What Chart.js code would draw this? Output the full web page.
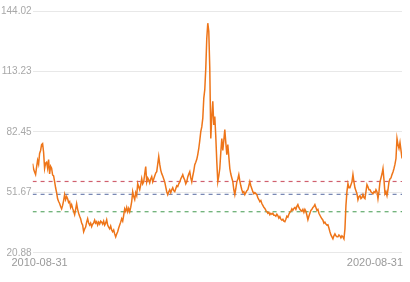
<!DOCTYPE html>
<html>
<head>
<meta charset="utf-8">
<script src="https://cdn.jsdelivr.net/npm/chart.js@4/dist/chart.umd.min.js"></script>
<style>
  html, body { margin: 0; padding: 0; background: #fff; }
  #wrap { width: 410px; height: 282px; }
</style>
</head>
<body>
<div id="wrap"><canvas id="priceChart"></canvas></div>
<script>
// Daily-ish series 2010-08-31 .. 2020-08-31
const values = [
  66.3, 63.5, 62.0, 60.7, 64.5, 68.0, 66.0, 71.5, 73.0, 76.0,
  76.5, 72.0, 63.8, 66.5, 67.0, 64.0, 68.4, 61.0, 65.0, 64.0,
  60.5, 60.0, 57.1, 54.0, 51.5, 48.4, 47.0, 46.0, 44.5, 43.3,
  45.0, 47.5, 50.5, 48.0, 49.5, 48.4, 46.5, 47.0, 44.0, 45.4,
  43.5, 42.0, 40.3, 43.0, 45.9, 43.0, 41.0, 39.5, 38.2, 36.0,
  35.0, 31.6, 33.0, 34.0, 36.5, 38.2, 36.0, 35.0, 36.0, 34.2,
  35.5, 36.0, 37.5, 36.0, 36.7, 35.0, 36.5, 35.5, 37.0, 36.5,
  35.5, 37.0, 35.0, 36.0, 37.7, 35.0, 34.0, 33.1, 34.5, 32.5,
  31.6, 32.5, 30.5, 29.0, 30.5, 31.6, 33.5, 35.0, 36.5, 38.2,
  37.0, 40.0, 43.3, 42.0, 44.0, 41.8, 43.5, 41.8, 44.0, 46.9,
  52.0, 49.5, 48.0, 51.5, 50.0, 56.1, 54.5, 53.0, 55.5, 58.7,
  56.0, 57.0, 61.0, 64.8, 57.0, 59.0, 58.0, 56.5, 58.5, 59.7,
  57.0, 58.5, 60.0, 61.5, 62.2, 66.0, 69.9, 66.0, 63.0, 61.2,
  60.0, 58.5, 57.0, 54.5, 52.0, 50.5, 52.0, 53.0, 51.5, 53.0,
  54.0, 52.5, 52.0, 53.5, 55.0, 54.6, 56.0, 57.0, 58.5, 59.5,
  60.7, 59.0, 58.0, 56.0, 57.1, 59.5, 61.0, 62.2, 59.0, 57.0,
  60.0, 62.5, 65.8, 67.0, 68.5, 70.9, 74.0, 78.0, 82.6, 85.0,
  89.3, 99.5, 104.0, 114.8, 130.1, 137.8, 133.7, 114.8, 79.1, 90.0,
  98.0, 86.0, 90.3, 80.0, 67.3, 57.1, 60.0, 63.8, 72.0, 79.1,
  73.0, 78.0, 83.7, 77.0, 70.9, 76.0, 70.0, 63.8, 61.0, 59.0,
  57.1, 53.0, 50.5, 53.5, 57.0, 58.5, 60.7, 57.5, 55.0, 53.0,
  51.5, 52.0, 50.5, 51.5, 52.5, 53.0, 55.0, 57.1, 55.0, 53.5,
  52.0, 51.0, 51.5, 51.0, 50.5, 49.0, 48.0, 46.9, 47.5, 46.0,
  45.0, 44.0, 43.5, 42.5, 41.8, 41.0, 41.5, 40.3, 41.0, 40.5,
  41.0, 40.0, 40.0, 39.5, 40.5, 39.8, 38.5, 39.3, 38.0, 37.5,
  38.0, 37.0, 36.7, 38.0, 39.5, 39.0, 40.5, 41.5, 42.0, 43.3,
  42.5, 43.5, 44.0, 43.0, 44.5, 45.4, 44.0, 43.0, 42.5, 42.0,
  43.0, 41.5, 43.0, 42.0, 40.0, 37.7, 39.5, 41.0, 42.5, 43.0,
  44.0, 44.5, 45.4, 44.0, 42.5, 43.0, 41.0, 40.0, 39.0, 38.2,
  37.5, 36.0, 36.5, 35.5, 35.0, 35.2, 33.5, 31.6, 30.0, 29.0,
  28.0, 29.5, 30.5, 29.5, 29.0, 29.0, 30.0, 29.5, 28.5, 29.5,
  29.0, 28.0, 33.0, 45.0, 52.0, 56.1, 54.0, 54.0, 55.5, 57.0,
  60.7, 57.0, 54.0, 52.5, 51.0, 47.9, 49.5, 50.0, 48.5, 49.0,
  50.5, 49.0, 48.5, 52.0, 55.6, 54.5, 53.0, 53.0, 52.0, 51.5,
  51.0, 52.0, 51.5, 53.0, 52.0, 48.4, 52.0, 57.0, 59.0, 61.0,
  63.8, 58.0, 51.0, 52.0, 50.0, 53.0, 57.0, 58.5, 59.0, 60.7,
  62.0, 63.8, 66.0, 68.9, 79.1, 76.0, 74.0, 77.0, 73.0, 68.9
];

// reference levels (dashed)
const levelNames = ['high', 'mid', 'low'];
const levelValues = [57.2, 50.65, 41.8];
const levelColors = ['#d0606e', '#7282b0', '#62aa6c'];

// axis labels
const xLabels = ['2010-08-31', '2020-08-31'];
const xLabelIndex = [7, 342];
const yTicks = ['20.88', '51.67', '82.45', '113.23', '144.02'];

const lastIdx = values.length - 1;

const datasets = [{
    label: 'price',
    data: values.map((v, i) => ({ x: i, y: v })),
    borderColor: '#ee7519',
    borderWidth: 1.5,
    pointRadius: 0,
    tension: 0,
    order: 0
}];

levelValues.forEach((v, k) => {
    datasets.push({
        label: levelNames[k],
        data: [{ x: 0, y: v }, { x: lastIdx, y: v }],
        borderColor: levelColors[k],
        borderWidth: 1.2,
        borderDash: [4, 4],
        pointRadius: 0,
        order: 1
    });
});

new Chart(document.getElementById('priceChart'), {
    type: 'line',
    data: { datasets: datasets },
    options: {
        responsive: true,
        maintainAspectRatio: false,
        animation: false,
        layout: { padding: { top: 11, right: 8, bottom: 8, left: 0 } },
        plugins: {
            legend: { display: false },
            tooltip: { enabled: false }
        },
        scales: {
            x: {
                type: 'linear',
                min: 0,
                max: lastIdx,
                grid: { display: false, drawTicks: false },
                border: { display: false },
                afterBuildTicks: axis => {
                    axis.ticks = xLabelIndex.map(v => ({ value: v }));
                },
                ticks: {
                    autoSkip: false,
                    maxRotation: 0,
                    padding: 4,
                    color: '#9a9a9a',
                    font: { family: 'Liberation Sans, Arial, sans-serif', size: 11 },
                    callback: (val) => xLabels[xLabelIndex.indexOf(val)]
                }
            },
            y: {
                type: 'linear',
                min: parseFloat(yTicks[0]),
                max: parseFloat(yTicks[yTicks.length - 1]),
                grid: { color: '#e8e8e8', drawTicks: false },
                border: { display: false },
                ticks: {
                    count: yTicks.length,
                    padding: 1,
                    color: '#a8a8a8',
                    font: { family: 'Liberation Sans, Arial, sans-serif', size: 10 },
                    callback: (v, i) => yTicks[i]
                }
            }
        }
    }
});
</script>
</body>
</html>
